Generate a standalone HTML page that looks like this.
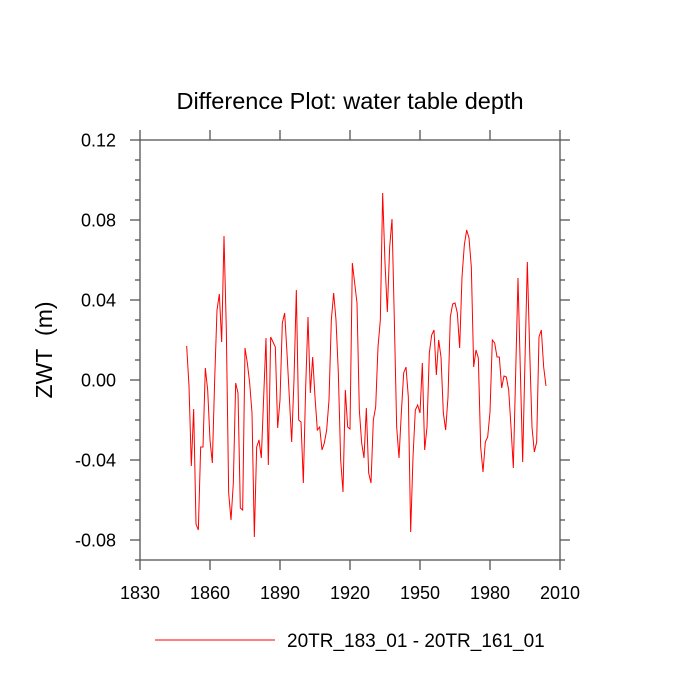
<!DOCTYPE html>
<html><head><meta charset="utf-8"><style>
body{margin:0;background:#fff;}
svg{display:block;font-family:"Liberation Sans",Arial,sans-serif;}
</style></head><body>
<svg id="chart" width="700" height="700" xmlns="http://www.w3.org/2000/svg">
<text x="350" y="109" font-size="23.5" text-anchor="middle">Difference Plot: water table depth</text>
<text transform="translate(52,350) rotate(-90)" font-size="23" text-anchor="middle" style="white-space:pre">ZWT&#160;&#160;(m)</text>
<g id="axes"></g>
<g id="series"></g>
<line x1="155" y1="640" x2="275" y2="640" stroke="#ff0000" stroke-width="1"/>
<text x="287" y="647" font-size="19">20TR_183_01 - 20TR_161_01</text>
</svg>
<script>
const startYear = 1850;
const values = [0.017,-0.003,-0.043,-0.0145,-0.072,-0.075,-0.0335,-0.0335,0.006,-0.005,-0.03,-0.0415,0.0,0.035,0.043,0.019,0.072,0.025,-0.0565,-0.07,-0.0515,-0.0015,-0.0065,-0.064,-0.065,0.016,0.0085,-0.0015,-0.0165,-0.0785,-0.0335,-0.03,-0.039,-0.0085,0.021,-0.0425,
0.0215,0.019,0.0165,-0.024,-0.01,0.0285,0.0335,0.0135,-0.0085,-0.031,0,0.045,-0.02,-0.021,-0.0515,-0.0035,0.0315,-0.0065,0.0115,-0.0085,-0.025,-0.0235,-0.035,-0.0315,-0.025,-0.01,0.03,0.0435,0.03,0.0035,-0.04,-0.056,-0.005,-0.0235,-0.0245,0.0585,0.0485,0.0385,-0.015,-0.0315,-0.039,-0.014,
-0.0465,-0.0515,-0.02,-0.0135,0.0165,0.03,0.0935,0.0585,0.034,0.0665,0.0805,0.03,-0.0235,-0.039,-0.0165,0.0035,0.0065,-0.0085,-0.076,-0.0385,-0.015,-0.0125,-0.0165,0.0085,-0.035,-0.0235,0.0135,0.0225,0.025,0.0025,0.02,0.0115,-0.0165,-0.025,-0.0085,0.0315,0.038,0.0385,0.0335,0.016,
0.0515,0.0675,0.075,0.071,0.0565,0.0065,0.015,0.011,-0.0335,-0.046,-0.031,-0.0285,-0.016,0.02,0.0185,0.0115,0.0115,-0.004,0.002,0.0015,-0.005,-0.0235,-0.044,0.0035,0.051,0.005,-0.041,0.01,0.059,0.015,-0.0235,-0.036,-0.031,0.0215,0.025,0.0065,-0.003];
const xTicks = [1830,1860,1890,1920,1950,1980,2010];
const yTicks = [0.12,0.08,0.04,0.00,-0.04,-0.08];
const yTickLabels = ["0.12","0.08","0.04","0.00","-0.04","-0.08"];

const L=140,R=560,T=140,B=560;
const xMin=1830,xMax=2010,yMin=-0.09,yMax=0.12;
function xs(v){return L+(v-xMin)/(xMax-xMin)*(R-L);}
function ys(v){return B-(v-yMin)/(yMax-yMin)*(B-T);}
const NS="http://www.w3.org/2000/svg";
const axes=document.getElementById('axes');
function mk(tag,attrs,parent){const e=document.createElementNS(NS,tag);for(const k in attrs)e.setAttribute(k,attrs[k]);parent.appendChild(e);return e;}
const col="#555";
const frame=mk('rect',{x:L,y:T,width:R-L,height:B-T,fill:'none',stroke:col,'stroke-width':1.3},axes);


xTicks.forEach(t=>{
  const x=xs(t);
  const a=mk('line',{x1:x,y1:B,x2:x,y2:B+10,stroke:col,'stroke-width':1.3},axes);
  
  
  const b=mk('line',{x1:x,y1:T,x2:x,y2:T-10,stroke:col,'stroke-width':1.3},axes);
  
  
  const tx=mk('text',{x:x,y:B+39,'font-size':18,'text-anchor':'middle'},axes);
  tx.textContent=t;
  
  
});
for(let i=0;i<=21;i++){
  const v=yMin+i*0.01;const y=ys(v);
  const major=yTicks.some(t=>Math.abs(t-v)<1e-6);
  const len=major?10:5;
  const a=mk('line',{x1:L,y1:y,x2:L-len,y2:y,stroke:col,'stroke-width':1.3},axes);
  
  
  const b=mk('line',{x1:R,y1:y,x2:R+len,y2:y,stroke:col,'stroke-width':1.3},axes);
  
  
}
yTicks.forEach((t,i)=>{
  const tx=mk('text',{x:L-24,y:ys(t)+6.5,'font-size':18,'text-anchor':'end'},axes);
  tx.textContent=yTickLabels[i];
  
  
});
const pts=values.map((v,i)=>xs(startYear+i).toFixed(2)+','+ys(v).toFixed(2)).join(' ');
const line=mk('polyline',{points:pts,fill:'none',stroke:'#ff0000','stroke-width':1},document.getElementById('series'));


</script>
</body></html>
